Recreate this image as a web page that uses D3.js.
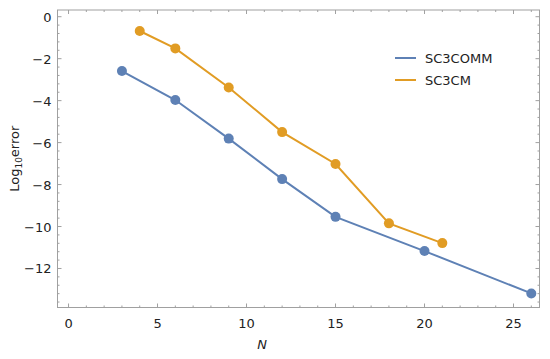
<!DOCTYPE html>
<html>
<head>
<meta charset="utf-8">
<script src="https://cdn.jsdelivr.net/npm/d3@7"></script>
<style>
  body { margin: 0; background: #fff; }
  text { font-family: "DejaVu Sans", Verdana, sans-serif; }
</style>
</head>
<body>
<script>
// Set SVG width and height
var width = 550,
    height = 359;

// plot frame
const frameL = 57.5, frameR = 539.5, frameT = 10, frameB = 307.5;

// data
const seriesNames = ['SC3COMM', 'SC3CM'];
const commN = [3, 6, 9, 12, 15, 20, 26];
const commErr = [-2.59, -3.97, -5.81, -7.74, -9.54, -11.17, -13.19];
const cmN = [4, 6, 9, 12, 15, 18, 21];
const cmErr = [-0.68, -1.51, -3.37, -5.50, -7.02, -9.85, -10.79];
const xTicks = [0, 5, 10, 15, 20, 25];
const yTicks = [0, -2, -4, -6, -8, -10, -12];
const colors = ['#5e81b5', '#e19c24'];

var svg = d3.select('body').append('svg')
    .attr('width', width)
    .attr('height', height);

var x = d3.scaleLinear().domain([-0.62, 26.46]).range([frameL, frameR]);
var y = d3.scaleLinear().domain([-13.86, 0.32]).range([frameB, frameT]);

// minor ticks
var xMinor = d3.range(0, 27, 1).filter(function(d) { return d % 5 != 0; });
var yMinor = d3.range(-13.6, 0.01, 0.4).map(function(d) { return Math.round(d * 10) / 10; })
    .filter(function(d) { return Math.abs(d / 2 - Math.round(d / 2)) > 0.01; });

var frameColor = '#a0a0a0';

// bottom & top axes
function xAxis(g, orient) {
    var major = 4, minor = 2;
    var sign = orient == 'bottom' ? -1 : 1;
    var yy = orient == 'bottom' ? frameB : frameT;
    g.selectAll('line.maj').data(xTicks).enter().append('line')
        .attr('x1', function(d) { return x(d); }).attr('x2', function(d) { return x(d); })
        .attr('y1', yy).attr('y2', yy + sign * major)
        .attr('stroke', frameColor);
    g.selectAll('line.min').data(xMinor).enter().append('line')
        .attr('x1', function(d) { return x(d); }).attr('x2', function(d) { return x(d); })
        .attr('y1', yy).attr('y2', yy + sign * minor)
        .attr('stroke', frameColor);
}
function yAxis(g, orient) {
    var major = 4, minor = 2;
    var sign = orient == 'left' ? 1 : -1;
    var xx = orient == 'left' ? frameL : frameR;
    g.selectAll('line.maj').data(yTicks).enter().append('line')
        .attr('y1', function(d) { return y(d); }).attr('y2', function(d) { return y(d); })
        .attr('x1', xx).attr('x2', xx + sign * major)
        .attr('stroke', frameColor);
    g.selectAll('line.min').data(yMinor).enter().append('line')
        .attr('y1', function(d) { return y(d); }).attr('y2', function(d) { return y(d); })
        .attr('x1', xx).attr('x2', xx + sign * minor)
        .attr('stroke', frameColor);
}

svg.append('g').call(xAxis, 'bottom');
svg.append('g').call(xAxis, 'top');
svg.append('g').call(yAxis, 'left');
svg.append('g').call(yAxis, 'right');

svg.append('rect')
    .attr('x', frameL).attr('y', frameT)
    .attr('width', frameR - frameL).attr('height', frameB - frameT)
    .attr('fill', 'none')
    .attr('stroke', frameColor);

// tick labels
svg.selectAll('text.xt').data(xTicks).enter().append('text')
    .attr('x', function(d) { return x(d); })
    .attr('y', frameB + 20)
    .attr('text-anchor', 'middle')
    .attr('font-size', 13)
    .attr('fill', '#222')
    .text(function(d) { return d; });

svg.selectAll('text.yt').data(yTicks).enter().append('text')
    .attr('x', frameL - 6)
    .attr('y', function(d) { return y(d) + 5; })
    .attr('text-anchor', 'end')
    .attr('font-size', 13)
    .attr('fill', '#222')
    .text(function(d) { return d < 0 ? '\u2212' + Math.abs(d) : d; });

// axis labels
svg.append('text')
    .attr('x', 262).attr('y', 349)
    .attr('text-anchor', 'middle')
    .attr('font-size', 13)
    .attr('font-style', 'italic')
    .attr('fill', '#222')
    .text('N');

var yl = svg.append('text')
    .attr('transform', 'translate(19,' + ((frameT + frameB) / 2) + ') rotate(-90)')
    .attr('text-anchor', 'middle')
    .attr('font-size', 13)
    .attr('fill', '#222');
yl.append('tspan').text('Log');
yl.append('tspan').attr('font-size', 9).attr('dy', 3).text('10');
yl.append('tspan').attr('dy', -3).text('error');

// series
var series = [
    { name: seriesNames[0], n: commN, e: commErr, color: colors[0] },
    { name: seriesNames[1], n: cmN, e: cmErr, color: colors[1] }
];

var line = d3.line()
    .x(function(d) { return x(d[0]); })
    .y(function(d) { return y(d[1]); });

series.forEach(function(s) {
    var pts = d3.zip(s.n, s.e);
    svg.append('path')
        .datum(pts)
        .attr('d', line)
        .attr('fill', 'none')
        .attr('stroke', s.color)
        .attr('stroke-width', 2);
    svg.append('g').selectAll('circle')
        .data(pts)
        .enter()
        .append('circle')
        .attr('cx', function(d) { return x(d[0]); })
        .attr('cy', function(d) { return y(d[1]); })
        .attr('r', 5)
        .attr('fill', s.color);
});

// legend
var legend = svg.append('g').selectAll('g')
    .data(series)
    .enter()
    .append('g')
    .attr('transform', function(d, i) { return 'translate(395,' + (58 + i * 22) + ')'; });
legend.append('line')
    .attr('x1', 0).attr('x2', 21)
    .attr('stroke', function(d) { return d.color; })
    .attr('stroke-width', 2);
legend.append('text')
    .attr('x', 30).attr('y', 5)
    .attr('font-size', 13)
    .attr('fill', '#222')
    .text(function(d) { return d.name; });
</script>
</body>
</html>
